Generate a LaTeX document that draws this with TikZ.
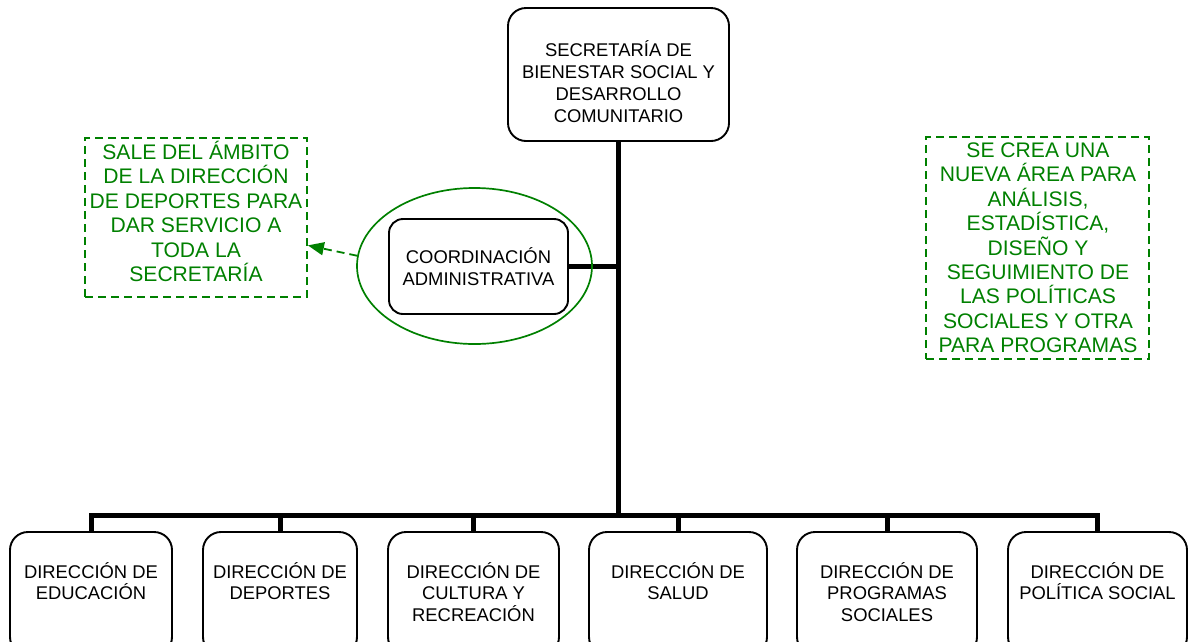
\documentclass[tikz,border=0pt]{standalone}
\usepackage{fontspec}
\setmainfont{Liberation Sans}
\usetikzlibrary{shapes.geometric,arrows.meta}
\definecolor{dgreen}{RGB}{0,128,0}
\begin{document}
\begin{tikzpicture}[x=1pt,y=-1pt,
  orgbox/.style={draw=black,line width=1.9pt,rounded corners=18pt,fill=white,inner sep=0pt},
  btxt/.style={inner sep=0pt,align=center,anchor=base,
    font=\fontsize{18.4pt}{21.8pt}\selectfont},
  gtxt/.style={inner sep=0pt,align=center,anchor=base,text=dgreen,
    font=\fontsize{21.1pt}{24.5pt}\selectfont},
  notebox/.style={draw=dgreen,line width=1.8pt,dash pattern=on 8pt off 5pt,inner sep=0pt},
  conn/.style={draw=black,line width=5pt,line join=miter},
  greenarrow/.style={draw=dgreen,line width=1.8pt,dash pattern=on 8pt off 5pt,
    -{Triangle[length=16pt,width=13pt]}}]
\useasboundingbox (0,0) rectangle (1189,641);
\clip (0,0) rectangle (1189,641);

% top box
\node[orgbox,minimum width=221pt,minimum height=133pt] (sec) at (618.5,74.5) {};
\node[btxt,font=\fontsize{18.4pt}{22pt}\selectfont] (secT) at (618.5,122) {SECRETARÍA DE\\BIENESTAR SOCIAL Y\\DESARROLLO\\COMUNITARIO};

% coordination box
\node[orgbox,rounded corners=14pt,minimum width=179pt,minimum height=95pt] (coord) at (478.5,266.5) {};
\node[btxt] (coordT) at (478.5,285) {COORDINACIÓN\\ADMINISTRATIVA};

% bottom boxes
\node[orgbox,minimum width=162pt,minimum height=123pt] (b1) at (91,593.5) {};
\node[orgbox,minimum width=154pt,minimum height=123pt] (b2) at (280,593.5) {};
\node[orgbox,minimum width=171pt,minimum height=123pt] (b3) at (473.5,593.5) {};
\node[orgbox,minimum width=178pt,minimum height=123pt] (b4) at (678,593.5) {};
\node[orgbox,minimum width=180pt,minimum height=123pt] (b5) at (887,593.5) {};
\node[orgbox,minimum width=179pt,minimum height=123pt] (b6) at (1097.5,593.5) {};

\node[btxt] (b1T) at (91,599.8) {DIRECCIÓN DE\\EDUCACIÓN};
\node[btxt] (b2T) at (280,599.8) {DIRECCIÓN DE\\DEPORTES};
\node[btxt] (b3T) at (473.5,621.6) {DIRECCIÓN DE\\CULTURA Y\\RECREACIÓN};
\node[btxt] (b4T) at (678,599.8) {DIRECCIÓN DE\\SALUD};
\node[btxt] (b5T) at (887,621.6) {DIRECCIÓN DE\\PROGRAMAS\\SOCIALES};
\node[btxt] (b6T) at (1097.5,599.8) {DIRECCIÓN DE\\POLÍTICA SOCIAL};

% connectors
\coordinate (bus) at (619,515);
\draw[conn] (sec.south) -- (sec.south |- bus);
\draw[conn] (b1.north) -- (b1.north |- bus) -- (b6.north |- bus) -- (b6.north);
\draw[conn] (b2.north) -- (b2.north |- bus);
\draw[conn] (b3.north) -- (b3.north |- bus);
\draw[conn] (b4.north) -- (b4.north |- bus);
\draw[conn] (b5.north) -- (b5.north |- bus);
\draw[conn] (coord.east) -- (coord.east -| sec.south);

% green ellipse
\node[draw=dgreen,line width=1.7pt,ellipse,minimum width=235pt,minimum height=156pt,inner sep=0pt] (ell) at (474.5,266) {};

% notes
\node[notebox,minimum width=222pt,minimum height=159pt] (note1) at (196,217.5) {};
\node[gtxt] (note1T) at (196,281.7) {SALE DEL ÁMBITO\\DE LA DIRECCIÓN\\DE DEPORTES PARA\\DAR SERVICIO A\\TODA LA\\SECRETARÍA};

\node[notebox,minimum width=223pt,minimum height=222pt] (note2) at (1037.5,248) {};
\node[gtxt,font=\fontsize{21.1pt}{24.4pt}\selectfont] (note2T) at (1038,352.7) {SE CREA UNA\\NUEVA ÁREA PARA\\ANÁLISIS,\\ESTADÍSTICA,\\DISEÑO Y\\SEGUIMIENTO DE\\LAS POLÍTICAS\\SOCIALES Y OTRA\\PARA PROGRAMAS};

\draw[greenarrow] (ell.175) -- (note1.-14);
\end{tikzpicture}
\end{document}
